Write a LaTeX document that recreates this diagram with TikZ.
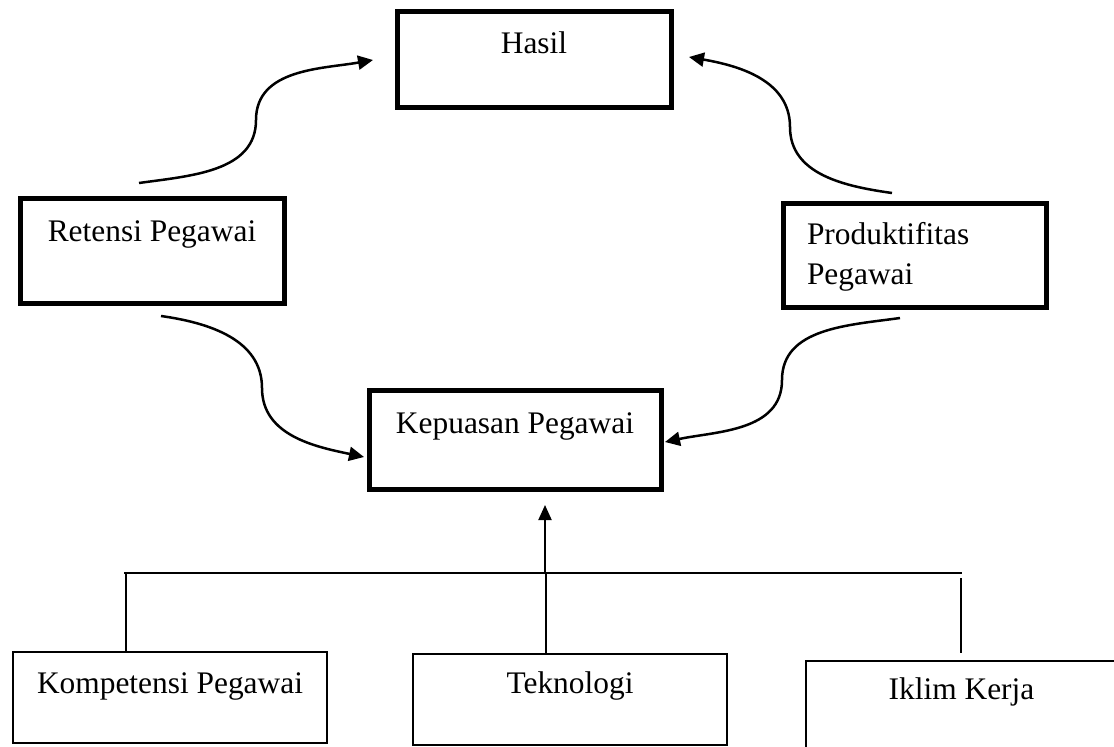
\documentclass[tikz,border=0pt]{standalone}
\usepackage{fontspec}
\setmainfont{Liberation Serif}
\usetikzlibrary{arrows.meta,positioning}

\tikzset{
  boxtext/.style={font=\fontsize{31.4}{40}\selectfont, inner xsep=0pt, inner ysep=0pt, outer sep=0pt, anchor=north},
  thickbox/.style={boxtext, draw, line width=5pt},
  thinbox/.style={boxtext, draw, line width=1.3pt},
  flow/.style={line width=2.5pt, -{Triangle[length=15pt,width=14pt]}},
}

\begin{document}
\begin{tikzpicture}[x=1pt,y=1pt]
\useasboundingbox (0,0) rectangle (1114,-747);

% kotak utama
\node[thickbox, minimum width=274pt, text height=42pt, text depth=54pt] (hasil) at (534,-11) {Hasil};
\node[thickbox, minimum width=264pt, text height=43pt, text depth=62pt] (retensi) at (152,-198) {Retensi Pegawai};
\node[thickbox, minimum width=263pt, text height=41pt, text depth=63pt] (produktif) at (914.5,-203) {\parbox[t]{215pt}{Produktifitas\\Pegawai}};
\node[thickbox, minimum width=292pt, text height=43pt, text depth=56pt] (kepuasan) at (515,-390) {Kepuasan Pegawai};

% kotak faktor
\node[thinbox, minimum width=314pt, text height=41pt, text depth=50pt] (kompetensi) at (170,-652) {Kompetensi Pegawai};
\node[thinbox, minimum width=314pt, text height=39pt, text depth=52pt] (teknologi) at (570,-654) {Teknologi};
\node[thinbox, minimum width=311pt, text height=38pt, text depth=53pt] (iklim) at (961.5,-661) {Iklim Kerja};

% titik bantu lengkungan
\coordinate (ret-up) at (139,-183);
\coordinate (ret-up-m) at (256,-120);
\coordinate (hasil-l) at (373,-60);
\coordinate (prod-up) at (892,-193);
\coordinate (prod-up-m) at (790,-127);
\coordinate (hasil-r) at (689,-57);
\coordinate (ret-dn) at (161,-316);
\coordinate (ret-dn-m) at (262,-388);
\coordinate (kep-l) at (364,-457);
\coordinate (prod-dn) at (900,-318);
\coordinate (prod-dn-m) at (782,-380);
\coordinate (kep-r) at (665,-442);

\draw[flow] (ret-up) to[out=8,in=-90] (ret-up-m) to[out=90,in=190] (hasil-l);
\draw[flow] (prod-up) to[out=172,in=-90] (prod-up-m) to[out=90,in=-10] (hasil-r);
\draw[flow] (ret-dn) to[out=-8,in=90] (ret-dn-m) to[out=-90,in=168] (kep-l);
\draw[flow] (prod-dn) to[out=188,in=90] (prod-dn-m) to[out=-90,in=12] (kep-r);

% garis pengumpul
\coordinate (bus-l) at (124,-573);
\coordinate (bus-m) at (545,-573);
\coordinate (bus-r) at (962,-573);
\coordinate (kep-b) at (545,-505);
\coordinate (drop-l) at (126,-573);
\coordinate (drop-m) at (546,-573);
\coordinate (drop-r) at (961,-578);
\coordinate (drop-r-end) at (961,-653);

\draw[line width=2pt] (bus-l) -- (bus-r);
\draw[line width=2pt, -{Triangle[length=15pt,width=13pt]}] (bus-m) -- (kep-b);
\draw[line width=1.3pt] (drop-l) -- (drop-l |- kompetensi.north);
\draw[line width=1.3pt] (drop-m) -- (drop-m |- teknologi.north);
\draw[line width=1.3pt] (drop-r) -- (drop-r-end);
\end{tikzpicture}
\end{document}
